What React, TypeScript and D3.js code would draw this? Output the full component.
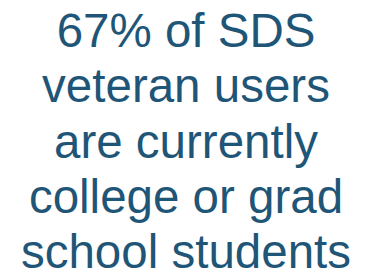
import React, { useEffect, useRef } from 'react';
import * as d3 from 'd3';

const lines = ['67% of SDS', 'veteran users', 'are currently', 'college or grad', 'school students'];

const W = 369;
const H = 278;

const App: React.FC = () => {
  const ref = useRef<SVGSVGElement | null>(null);

  useEffect(() => {
    if (!ref.current) return;
    const svg = d3.select(ref.current);
    svg.selectAll('*').remove();

    const y = d3.scalePoint<number>()
      .domain(d3.range(lines.length))
      .range([47, 268]);

    svg.append('g')
      .selectAll('text')
      .data(lines)
      .enter().append('text')
      .attr('x', 186)
      .attr('y', (_d, i) => y(i) ?? 0)
      .attr('text-anchor', 'middle')
      .style('font-family', 'Liberation Sans, Arial, sans-serif')
      .style('font-size', '47.5px')
      .style('fill', '#1F5678')
      .text(d => d);
  }, []);

  return (
    <svg ref={ref} width={W} height={H}
      style={{ position: 'absolute', left: 0, top: 0, background: '#fff' }} />
  );
};

export default App;
